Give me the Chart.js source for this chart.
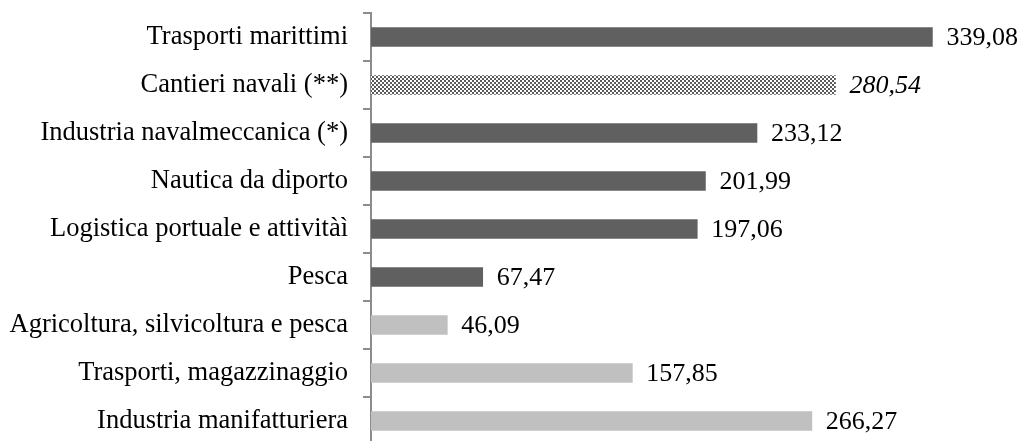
<!DOCTYPE html>
<html><head><meta charset="utf-8">
<script src="https://cdn.jsdelivr.net/npm/chart.js@4.4.0/dist/chart.umd.min.js"></script>
<style>html,body{margin:0;padding:0;background:#fff;overflow:hidden}#wrap{width:1025px;height:445px}</style>
</head><body><div id="wrap"><canvas id="c"></canvas></div>
<script>
const categories = ["Trasporti marittimi","Cantieri navali (**)","Industria navalmeccanica (*)","Nautica da diporto","Logistica portuale e attivitàì","Pesca","Agricoltura, silvicoltura e pesca","Trasporti, magazzinaggio","Industria manifatturiera"];
const values = [339.08,280.54,233.12,201.99,197.06,67.47,46.09,157.85,266.27];
const valueLabels = ["339,08","280,54","233,12","201,99","197,06","67,47","46,09","157,85","266,27"];
const barKinds = ["dark","pattern","dark","dark","dark","dark","light","light","light"];

const pc = document.createElement('canvas'); pc.width=4; pc.height=4;
const px = pc.getContext('2d');
px.fillStyle='#fff'; px.fillRect(0,0,4,4);
px.fillStyle='#5a5a5a'; px.fillRect(0,0,2,2); px.fillRect(2,2,2,2);
const pattern = px.createPattern(pc,'repeat');
const colorFor = k => k==='dark' ? '#606060' : k==='light' ? '#c0c0c0' : pattern;

const FONT = "'Liberation Serif', 'Times New Roman', serif";
const valuePlugin = {
  id:'vals',
  afterDatasetsDraw(chart){
    const ctx=chart.ctx, meta=chart.getDatasetMeta(0);
    ctx.save(); ctx.fillStyle='#000'; ctx.textBaseline='middle'; ctx.textAlign='left';
    meta.data.forEach((bar,i)=>{
      ctx.font=(barKinds[i]==='pattern'?'italic ':'')+'26px '+FONT;
      ctx.fillText(valueLabels[i], bar.x+14, bar.y+1);
    });
    ctx.restore();
  }
};

new Chart(document.getElementById('c'),{
  type:'bar',
  data:{labels:categories,datasets:[{data:values,backgroundColor:barKinds.map(colorFor),barThickness:19,borderWidth:0}]},
  options:{
    indexAxis:'y',responsive:true,maintainAspectRatio:false,animation:false,
    layout:{padding:{top:13,left:0,right:0,bottom:0}},
    plugins:{legend:{display:false},tooltip:{enabled:false}},
    scales:{
      x:{display:false,min:0,max:395},
      y:{
        afterFit(s){s.width=371; s.paddingTop=0; s.paddingBottom=0;},
        grid:{offset:true,drawOnChartArea:false,tickLength:8,color:'#8c8c8c',lineWidth:2},
        border:{color:'#8c8c8c',width:2},
        ticks:{color:'#000',padding:15,font:{family:FONT,size:26.5}}
      }
    }
  },
  plugins:[valuePlugin]
});
</script></body></html>
